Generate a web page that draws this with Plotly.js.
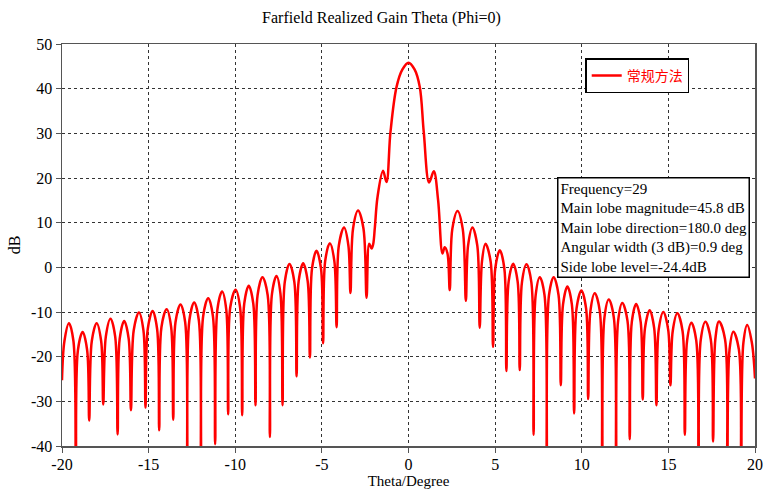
<!DOCTYPE html>
<html>
<head>
<meta charset="utf-8">
<script src="https://cdn.plot.ly/plotly-3.0.1.min.js"></script>
<style>html,body{margin:0;padding:0;background:#fff;}#chart{width:763px;height:489px;}</style>
</head>
<body>
<div id="chart"></div>
<script>
// Theta (degree) of points: nulls, lobe flanks and lobe peaks, in order
const theta = [
  -20, -19.86, -19.6, -19.34, -19.2,
  -19.08, -18.81, -18.55, -18.43,
  -18.28, -18.0, -17.74, -17.62,
  -17.47, -17.2, -16.93, -16.79,
  -16.67, -16.41, -16.15, -16.02,
  -15.86, -15.56, -15.3, -15.18,
  -15.05, -14.77, -14.51, -14.39,
  -14.26, -13.96, -13.7, -13.58,
  -13.45, -13.16, -12.89, -12.77,
  -12.65, -12.37, -12.1, -11.98,
  -11.85, -11.56, -11.29, -11.16,
  -11.03, -10.76, -10.52, -10.41,
  -10.29, -9.98, -9.72, -9.6,
  -9.48, -9.22, -8.96, -8.83,
  -8.71, -8.43, -8.13, -8.0,
  -7.88, -7.62, -7.39, -7.27,
  -7.14, -6.87, -6.59, -6.46,
  -6.34, -6.08, -5.82, -5.69,
  -5.57, -5.31, -5.05, -4.93,
  -4.81, -4.54, -4.28, -4.15,
  -4.02, -3.72, -3.47, -3.35,
  -3.2, -2.91, -2.6, -2.42,
  -2.27, -2.13, -2.04, -1.94, -1.79, -1.47, -1.27, -1.04, -0.69, -0.35,
  0,
  0.35, 0.65, 0.88, 1.19, 1.46, 1.71, 1.96, 2.09, 2.25, 2.38,
  2.53, 2.83, 3.13, 3.31,
  3.44, 3.69, 3.97, 4.11,
  4.24, 4.44, 4.74, 4.88,
  5.01, 5.27, 5.53, 5.65,
  5.78, 6.04, 6.3, 6.42,
  6.55, 6.81, 7.09, 7.22,
  7.34, 7.58, 7.85, 7.98,
  8.11, 8.38, 8.66, 8.79,
  8.92, 9.17, 9.43, 9.56,
  9.7, 9.98, 10.25, 10.37,
  10.5, 10.75, 11.04, 11.18,
  11.31, 11.56, 11.85, 11.98,
  12.1, 12.34, 12.64, 12.77,
  12.89, 13.14, 13.4, 13.52,
  13.65, 13.92, 14.18, 14.31,
  14.44, 14.71, 14.99, 15.12,
  15.25, 15.52, 15.82, 15.95,
  16.08, 16.33, 16.61, 16.74,
  16.87, 17.14, 17.45, 17.58,
  17.71, 17.92, 18.27, 18.4,
  18.53, 18.75, 19.07, 19.2,
  19.33, 19.55, 19.82, 20
];
// Realized gain (dB) at those angles
const gainDb = [
  -25.3, -16.5, -12.5, -16.5, -45,
  -18.5, -14.5, -18.5, -34.3,
  -16.5, -12.5, -16.5, -30.7,
  -15.5, -11.5, -15.5, -37.4,
  -16.0, -12.0, -16.0, -32.0,
  -14.1, -10.1, -14.1, -31.4,
  -13.8, -9.8, -13.8, -36.5,
  -13.4, -9.4, -13.4, -34.1,
  -12.3, -8.3, -12.3, -45,
  -11.9, -7.9, -11.9, -45,
  -10.9, -6.9, -10.9, -39.6,
  -9.4, -5.4, -9.4, -32.9,
  -9.0, -5.0, -9.0, -33.1,
  -8.1, -4.1, -8.1, -30.9,
  -6.2, -2.2, -6.2, -38.0,
  -5.95, -1.95, -5.95, -30.9,
  -3.25, 0.75, -3.25, -24.4,
  -3.1, 0.9, -3.1, -20.2,
  -0.3, 3.7, -0.3, -17.0,
  1.4, 5.4, 1.4, -13.4,
  4.9, 8.9, 4.9, -5.75,
  8.7, 12.7, 8.7, -6.8,
  5.3, 4.2, 5.15, 9.0, 15.7, 21.6, 19.1, 30.3, 40.4, 44.3,
  45.8,
  44.3, 40.4, 30.3, 19.0, 21.5, 15.0, 3.1, 4.5, 3.1, -5.1,
  8.6, 12.6, 8.6, -7.5,
  4.9, 8.9, 4.9, -13.5,
  1.3, 5.3, 1.3, -17.8,
  -0.2, 3.8, -0.2, -23.2,
  -3.2, 0.8, -3.2, -23.0,
  -3.3, 0.7, -3.3, -37.5,
  -6.2, -2.2, -6.2, -45,
  -6.2, -2.2, -6.2, -26.4,
  -8.3, -4.3, -8.3, -32.7,
  -9.2, -5.2, -9.2, -29.5,
  -9.8, -5.8, -9.8, -45,
  -11.2, -7.2, -11.2, -45,
  -12.0, -8.0, -12.0, -38.5,
  -12.2, -8.2, -12.2, -29.6,
  -13.6, -9.6, -13.6, -30.9,
  -14.0, -10.0, -14.0, -26.4,
  -14.3, -10.3, -14.3, -37.5,
  -16.4, -12.4, -16.4, -45,
  -16.2, -12.2, -16.2, -39,
  -16.1, -12.1, -16.1, -45,
  -18.4, -14.4, -18.4, -45,
  -16.9, -12.9, -16.9, -24.9
];
const seriesName = '常规方法';
const xTicks = [-20, -15, -10, -5, 0, 5, 10, 15, 20];
const yTicks = [-40, -30, -20, -10, 0, 10, 20, 30, 40, 50];
const infoLines = [
  'Frequency=29',
  'Main lobe magnitude=45.8 dB',
  'Main lobe direction=180.0 deg',
  'Angular width (3 dB)=0.9 deg',
  'Side lobe level=-24.4dB'
];

const serif = '"Liberation Serif", "Times New Roman", "Noto Sans CJK SC", serif';

const trace = {
  x: theta, y: gainDb, type: 'scatter', mode: 'lines', name: seriesName,
  line: {color: '#ff0000', width: 2.5, shape: 'spline', smoothing: 1.0}
};

const axisCommon = {
  showline: true, mirror: true, linecolor: '#555', linewidth: 1.5,
  ticks: 'outside', ticklen: 5, tickcolor: '#555', tickwidth: 1,
  showgrid: true, gridcolor: '#333', griddash: 'dot', gridwidth: 1,
  zeroline: false, tickfont: {family: serif, size: 16, color: '#000'}
};

const layout = {
  width: 763, height: 489,
  margin: {l: 62, r: 8, t: 44, b: 43},
  paper_bgcolor: '#fff', plot_bgcolor: '#fff',
  font: {family: serif, color: '#000'},
  title: {text: 'Farfield Realized Gain Theta (Phi=0)', font: {family: serif, size: 16, color: '#000'},
          x: 0.5, xanchor: 'center', y: 0.965, yanchor: 'middle'},
  xaxis: Object.assign({}, axisCommon, {
    range: [-20, 20], tickvals: xTicks, ticktext: xTicks.map(String), automargin: false,
    ticklabelstandoff: -2,
    title: {text: 'Theta/Degree', font: {family: serif, size: 15, color: '#000'}, standoff: 8}
  }),
  yaxis: Object.assign({}, axisCommon, {
    range: [-40, 50], tickvals: yTicks, ticktext: yTicks.map(String), automargin: false,
    title: {text: 'dB', font: {family: serif, size: 16, color: '#000'}, standoff: 6}
  }),
  showlegend: true,
  legend: {
    x: 0.755, y: 0.964, xanchor: 'left', yanchor: 'top',
    bgcolor: '#fff', bordercolor: '#000', borderwidth: 1.5,
    font: {family: serif, size: 14, color: '#ff0000'}, itemwidth: 30
  },
  annotations: [{
    xref: 'paper', yref: 'paper', x: 0.714, y: 0.668, xanchor: 'left', yanchor: 'top',
    text: infoLines.join('<br>'), align: 'left', showarrow: false,
    font: {family: serif, size: 15, color: '#000'},
    bgcolor: '#fff', bordercolor: '#000', borderwidth: 1.5, borderpad: 2
  }]
};

Plotly.newPlot('chart', [trace], layout, {staticPlot: true, displayModeBar: false});
</script>
</body>
</html>
